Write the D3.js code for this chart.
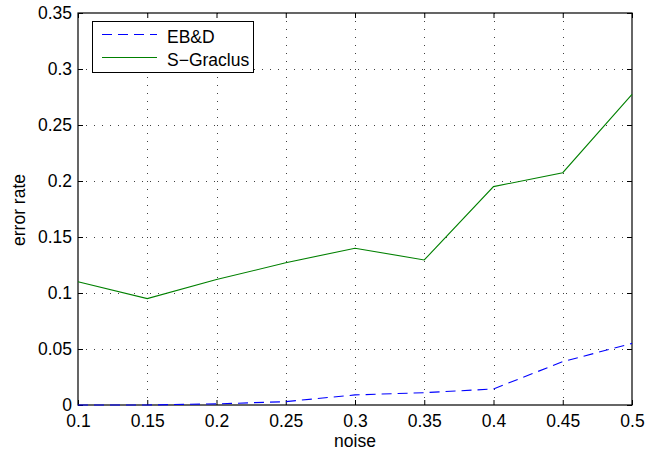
<!DOCTYPE html>
<html>
<head>
<meta charset="utf-8">
<script src="https://cdn.jsdelivr.net/npm/d3@7"></script>
<style>
  html, body { margin: 0; padding: 0; background: #fff; }
  svg text { font-family: "Liberation Sans", Arial, Helvetica, sans-serif; }
</style>
</head>
<body>
<svg id="chart" width="649" height="456"></svg>
<script>
// Noise levels and the error rate of each method
const noise = [0.1, 0.15, 0.2, 0.25, 0.3, 0.35, 0.4, 0.45, 0.5];
const ebd = [0, 0, 0.001, 0.003, 0.009, 0.011, 0.0143, 0.0387, 0.055];
const sGraclus = [0.11, 0.095, 0.112, 0.127, 0.14, 0.1295, 0.195, 0.2074, 0.2774];
const xTicks = [0.1, 0.15, 0.2, 0.25, 0.3, 0.35, 0.4, 0.45, 0.5];
const yTicks = [0, 0.05, 0.1, 0.15, 0.2, 0.25, 0.3, 0.35];
const seriesNames = ["EB&D", "S\u2212Graclus"];

const svg = d3.select("#chart");
const plotL = 78, plotR = 632, plotT = 13, plotB = 405;
const fontSize = 17.5;

const x = d3.scaleLinear().domain([0.1, 0.5]).range([plotL, plotR]);
const y = d3.scaleLinear().domain([0, 0.35]).range([plotB, plotT]);

const fmt = d => (d === 0 ? "0" : String(+d.toFixed(2)));

// Dotted grid
const grid = svg.append("g").attr("stroke", "#000").attr("stroke-width", 1)
  .attr("stroke-dasharray", "1,7").attr("opacity", 0.75);
xTicks.slice(1, -1).forEach(t => {
  grid.append("line").attr("x1", Math.round(x(t)) + 0.5).attr("x2", Math.round(x(t)) + 0.5)
    .attr("y1", plotT).attr("y2", plotB);
});
yTicks.slice(1, -1).forEach(t => {
  grid.append("line").attr("y1", Math.round(y(t)) + 0.5).attr("y2", Math.round(y(t)) + 0.5)
    .attr("x1", plotL).attr("x2", plotR);
});

// Axes with inward ticks on all four sides
const tickLen = 5;
const axB = svg.append("g").attr("transform", `translate(0,${plotB})`)
  .call(d3.axisBottom(x).tickValues(xTicks).tickFormat(fmt).tickSizeInner(-tickLen).tickSizeOuter(0).tickPadding(10));
const axT = svg.append("g").attr("transform", `translate(0,${plotT})`)
  .call(d3.axisTop(x).tickValues(xTicks).tickFormat("").tickSizeInner(-tickLen).tickSizeOuter(0));
const axL = svg.append("g").attr("transform", `translate(${plotL},0)`)
  .call(d3.axisLeft(y).tickValues(yTicks).tickFormat(fmt).tickSizeInner(-tickLen).tickSizeOuter(0).tickPadding(6));
const axR = svg.append("g").attr("transform", `translate(${plotR},0)`)
  .call(d3.axisRight(y).tickValues(yTicks).tickFormat("").tickSizeInner(-tickLen).tickSizeOuter(0));
[axB, axT, axL, axR].forEach(a => {
  a.attr("font-size", fontSize).attr("font-family", "Liberation Sans, Arial, sans-serif");
  a.select(".domain").remove();
  a.selectAll("line").attr("stroke", "#000");
  a.selectAll("text").attr("fill", "#000");
});

// Frame
svg.append("rect").attr("x", plotL).attr("y", plotT).attr("width", plotR - plotL).attr("height", plotB - plotT)
  .attr("fill", "none").attr("stroke", "#000").attr("stroke-width", 1.2);

// Lines
const line = d3.line().x((d, i) => x(noise[i])).y(d => y(d));
svg.append("path").datum(sGraclus).attr("d", line)
  .attr("fill", "none").attr("stroke", "#008000").attr("stroke-width", 1.1);
svg.append("path").datum(ebd).attr("d", line)
  .attr("fill", "none").attr("stroke", "#0000ff").attr("stroke-width", 1.1)
  .attr("stroke-dasharray", "10,6");

// Axis titles
svg.append("text").attr("x", (plotL + plotR) / 2).attr("y", 447).attr("text-anchor", "middle")
  .attr("font-size", fontSize).text("noise");
svg.append("text").attr("transform", `translate(25,210) rotate(-90)`)
  .attr("text-anchor", "middle").attr("font-size", fontSize).text("error rate");

// Legend
const lg = svg.append("g");
lg.append("rect").attr("x", 92.5).attr("y", 21.5).attr("width", 161).attr("height", 51)
  .attr("fill", "#fff").attr("stroke", "#000").attr("stroke-width", 1);
const legendItems = [
  { name: seriesNames[0], color: "#0000ff", dash: "10,6", yy: 34.5 },
  { name: seriesNames[1], color: "#008000", dash: null, yy: 57.5 }
];
legendItems.forEach(it => {
  lg.append("line").attr("x1", 102).attr("x2", 157).attr("y1", it.yy).attr("y2", it.yy)
    .attr("stroke", it.color).attr("stroke-width", 1.1).attr("stroke-dasharray", it.dash);
  lg.append("text").attr("x", 167).attr("y", it.yy + 8.5).attr("font-size", fontSize).text(it.name);
});
</script>
</body>
</html>
